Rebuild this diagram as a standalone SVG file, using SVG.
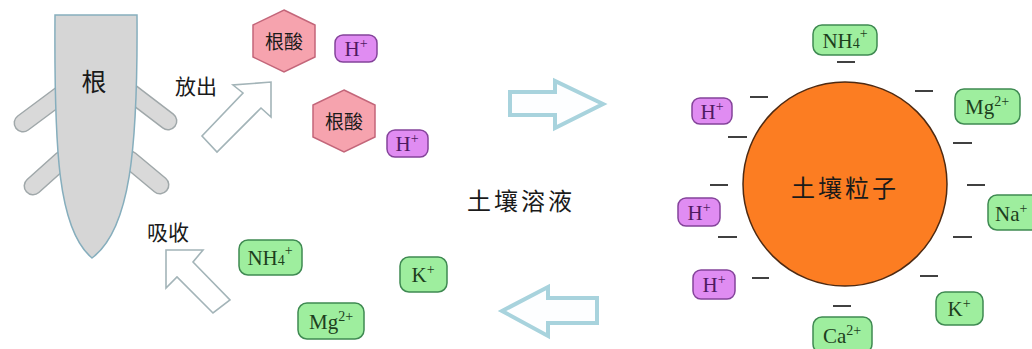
<svg xmlns="http://www.w3.org/2000/svg" width="1032" height="349" viewBox="0 0 1032 349">
  <style>
    .cjk { font-family: "Noto Sans CJK SC", "Noto Sans", sans-serif; fill: #1a1a1a; }
    .ion { font-family: "Liberation Serif", "DejaVu Serif", serif; font-size: 21px; text-anchor: middle; }
    .ion.left { text-anchor: start; }
    .green rect { fill: #9eee9e; stroke: #3f8a52; stroke-width: 1.5; }
    .green text { fill: #1d3f1d; }
    .violet rect { fill: #e08cf2; stroke: #84439a; stroke-width: 1.5; }
    .violet text { fill: #4e1a62; }
    .hex polygon { fill: #f6a3ae; stroke: #c3667a; stroke-width: 1.5; }
    .sup { font-size: 14px; }
    .dash { stroke: #111; stroke-width: 1.6; }
    .flow { fill: #fdfeff; stroke: #a8d3dd; stroke-width: 4; stroke-linejoin: miter; }
    .move { fill: #ffffff; stroke: #a3b4b8; stroke-width: 1.6; }
    .branch-edge { stroke: #a0a8aa; stroke-width: 19; stroke-linecap: round; }
    .branch-fill { stroke: #d9d9d9; stroke-width: 16; stroke-linecap: round; }
  </style>

  <rect width="1032" height="349" fill="#ffffff"/>

  <!-- root with four side branches -->
  <g id="root">
    <line class="branch-edge" x1="62" y1="94" x2="23" y2="123"/>
    <line class="branch-edge" x1="130" y1="92" x2="168" y2="121"/>
    <line class="branch-edge" x1="62" y1="160" x2="33" y2="186"/>
    <line class="branch-edge" x1="130" y1="160" x2="160" y2="185"/>
    <line class="branch-fill" x1="62" y1="94" x2="23" y2="123"/>
    <line class="branch-fill" x1="130" y1="92" x2="168" y2="121"/>
    <line class="branch-fill" x1="62" y1="160" x2="33" y2="186"/>
    <line class="branch-fill" x1="130" y1="160" x2="160" y2="185"/>
    <path d="M55,15 L137,15 C138,150 130,230 92,258 C58,230 54,150 55,15 Z" fill="#d6d6d6" stroke="#86aebd" stroke-width="1.5"/>
    <text class="cjk" x="94" y="91" font-size="25" text-anchor="middle">根</text>
  </g>

  <!-- labels beside the root -->
  <g id="label-release">
    <text class="cjk" x="196" y="94" font-size="21" text-anchor="middle">放出</text>
  </g>
  <g id="label-absorb">
    <text class="cjk" x="168" y="240" font-size="21" text-anchor="middle">吸收</text>
  </g>
  <g id="label-solution">
    <text class="cjk" x="521" y="210" font-size="24" letter-spacing="3" text-anchor="middle">土壤溶液</text>
  </g>

  <!-- connectors: hollow arrows -->
  <g id="connectors">
    <polygon class="move" points="271,82 271,117 261,108 217,152 202,136 243,93 233,85"/>
    <polygon class="move" points="166,250 203,250 193,262 230,300 213,313 177,277 166,288"/>
    <polygon class="flow" points="510,92 555,92 555,81 603,104 555,128 555,115 510,115"/>
    <polygon class="flow" points="597,298 548,298 548,287 502,311 548,336 548,323 597,323"/>
  </g>

  <!-- root acids -->
  <g id="acid-1" class="hex">
    <polygon points="284,10 315,25 315,57 284,72 253,57 253,25"/>
    <text class="cjk" x="284" y="49" font-size="19" text-anchor="middle">根酸</text>
  </g>
  <g id="acid-2" class="hex">
    <polygon points="344,90 375,105 375,137 344,152 313,137 313,105"/>
    <text class="cjk" x="344" y="129" font-size="19" text-anchor="middle">根酸</text>
  </g>

  <!-- ions in the soil solution -->
  <g id="sol-h-1" class="violet">
    <rect x="335" y="35" width="42" height="27" rx="8"/>
    <text class="ion" x="356" y="56">H<tspan class="sup" dy="-8">+</tspan></text>
  </g>
  <g id="sol-h-2" class="violet">
    <rect x="387" y="130" width="41" height="27" rx="8"/>
    <text class="ion" x="407" y="151">H<tspan class="sup" dy="-8">+</tspan></text>
  </g>
  <g id="sol-nh4" class="green">
    <rect x="239" y="240" width="63" height="35" rx="9"/>
    <text class="ion" x="270" y="265">NH<tspan class="sup">4</tspan><tspan class="sup" dy="-10">+</tspan></text>
  </g>
  <g id="sol-k" class="green">
    <rect x="400" y="257" width="47" height="35" rx="9"/>
    <text class="ion" x="423" y="282">K<tspan class="sup" dy="-8">+</tspan></text>
  </g>
  <g id="sol-mg" class="green">
    <rect x="298" y="303" width="66" height="36" rx="9"/>
    <text class="ion" x="331" y="329">Mg<tspan class="sup" dy="-8">2+</tspan></text>
  </g>

  <!-- soil particle -->
  <g id="particle">
    <circle cx="845" cy="184" r="102" fill="#fc7d22" stroke="#4e2a12" stroke-width="1.5"/>
    <text class="cjk" x="845" y="197" font-size="24" letter-spacing="3" text-anchor="middle">土壤粒子</text>
  </g>

  <!-- negative surface charges -->
  <g id="charges">
    <line class="dash" x1="837" y1="62" x2="855" y2="62"/>
    <line class="dash" x1="750" y1="97" x2="768" y2="97"/>
    <line class="dash" x1="728" y1="137" x2="747" y2="137"/>
    <line class="dash" x1="915" y1="91" x2="933" y2="91"/>
    <line class="dash" x1="953" y1="143" x2="972" y2="143"/>
    <line class="dash" x1="710" y1="185" x2="728" y2="185"/>
    <line class="dash" x1="718" y1="237" x2="737" y2="237"/>
    <line class="dash" x1="752" y1="278" x2="769" y2="278"/>
    <line class="dash" x1="833" y1="306" x2="851" y2="306"/>
    <line class="dash" x1="967" y1="185" x2="985" y2="185"/>
    <line class="dash" x1="953" y1="237" x2="972" y2="237"/>
    <line class="dash" x1="920" y1="276" x2="938" y2="276"/>
  </g>

  <!-- adsorbed cations -->
  <g id="ads-nh4" class="green">
    <rect x="813" y="25" width="64" height="30" rx="9"/>
    <text class="ion" x="845" y="48">NH<tspan class="sup">4</tspan><tspan class="sup" dy="-10">+</tspan></text>
  </g>
  <g id="ads-h-1" class="violet">
    <rect x="692" y="98" width="40" height="26" rx="8"/>
    <text class="ion" x="712" y="119">H<tspan class="sup" dy="-8">+</tspan></text>
  </g>
  <g id="ads-mg" class="green">
    <rect x="955" y="89" width="65" height="35" rx="9"/>
    <text class="ion" x="987" y="114">Mg<tspan class="sup" dy="-8">2+</tspan></text>
  </g>
  <g id="ads-h-2" class="violet">
    <rect x="678" y="198" width="42" height="28" rx="8"/>
    <text class="ion" x="699" y="220">H<tspan class="sup" dy="-8">+</tspan></text>
  </g>
  <g id="ads-na" class="green">
    <rect x="988" y="195" width="60" height="35" rx="9"/>
    <text class="ion left" x="995" y="221">Na<tspan class="sup" dy="-8">+</tspan></text>
  </g>
  <g id="ads-h-3" class="violet">
    <rect x="693" y="270" width="42" height="29" rx="8"/>
    <text class="ion" x="714" y="292">H<tspan class="sup" dy="-8">+</tspan></text>
  </g>
  <g id="ads-k" class="green">
    <rect x="936" y="292" width="47" height="33" rx="9"/>
    <text class="ion" x="959" y="316">K<tspan class="sup" dy="-8">+</tspan></text>
  </g>
  <g id="ads-ca" class="green">
    <rect x="813" y="317" width="59" height="36" rx="9"/>
    <text class="ion" x="842" y="343">Ca<tspan class="sup" dy="-8">2+</tspan></text>
  </g>
</svg>
